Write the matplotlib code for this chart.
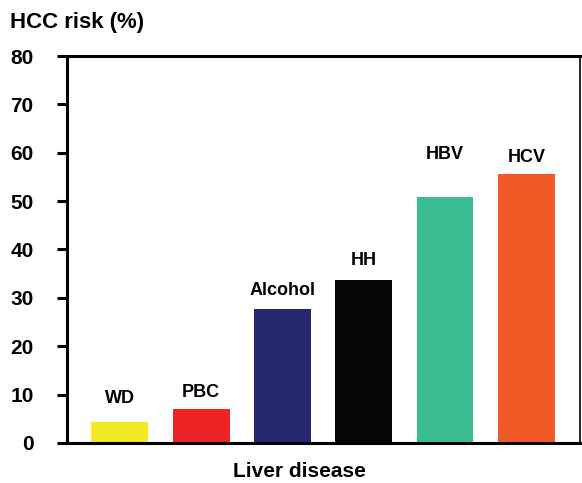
import matplotlib
matplotlib.use("Agg")
import matplotlib.pyplot as plt

diseases = ["WD", "PBC", "Alcohol", "HH", "HBV", "HCV"]
risk = [4.3, 7.0, 27.7, 33.7, 50.8, 55.6]
colors = ["#F2EA23", "#EE2324", "#25286E", "#050505", "#3ABD93", "#F15A24"]
yticks = [0, 10, 20, 30, 40, 50, 60, 70, 80]

# gap (in points) between bar top and its label, as in the original figure
label_gap = [11, 6, 7, 8, 25, 6]

plt.rcParams['font.family'] = ['Liberation Sans', 'DejaVu Sans']
plt.rcParams['font.weight'] = 'bold'

fig = plt.figure(figsize=(5.82, 4.83), dpi=100)
ax = fig.add_axes([0.115, 0.083, 0.8816, 0.801])

x = list(range(len(diseases)))
bars = ax.bar(x, risk, width=0.7, color=colors)

for xi, v, name, gap in zip(x, risk, diseases, label_gap):
    ax.annotate(name, (xi, v), xytext=(0, gap), textcoords="offset points",
                ha="center", va="bottom", fontsize=13, fontweight="bold")

ax.set_xlim(-0.65, 5.66)
ax.set_ylim(0, 80)
ax.set_yticks(yticks)
ax.set_yticklabels([str(t) for t in yticks], fontsize=15, fontweight="bold")
ax.set_xticks([])
ax.tick_params(axis='y', direction='out', length=7, width=2.2, pad=17)

for side in ['left', 'bottom', 'top']:
    ax.spines[side].set_linewidth(2.2)
ax.spines['right'].set_linewidth(1.2)

fig.text(0.018, 0.954, "HCC risk (%)", ha="left", va="center",
         fontsize=16, fontweight="bold")
fig.text(299 / 582, 0.023, "Liver disease", ha="center", va="center",
         fontsize=15, fontweight="bold")

fig.savefig("out.png", dpi=100)
